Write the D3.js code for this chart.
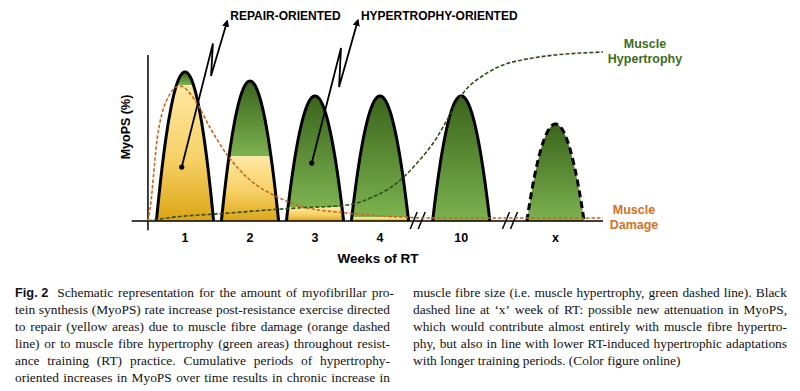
<!DOCTYPE html>
<html>
<head>
<meta charset="utf-8">
<script src="https://cdn.jsdelivr.net/npm/d3@7"></script>
<style>
  body { margin: 0; background: white; }
</style>
</head>
<body>
<div id="container"></div>
<script>
let w = 800;
let h = 391;

// weeks of RT and where they sit on the broken axis (in "slot" units)
let weeks = ["1", "2", "3", "4", "10", "x"];
let weekSlots = [1, 2, 3, 4, 5.25, 6.7];
let peakMyoPS = [89.8, 84.3, 75.3, 75.3, 75.3, 58.4];
let repairMyoPS = [82, 39, 8.4, 2.4, 0, 0];
let dashedWeek = [false, false, false, false, false, true];
let breakSlots = [4.58, 6.0];

// orange dashed line (muscle damage)
let damageSlots = [0.43, 0.46, 0.57, 0.72, 0.92, 1.18, 1.38, 1.65, 2.0, 2.42, 2.77, 3.49, 4.31, 4.77, 7.43];
let damageValues = [0, 6.6, 48.8, 72.9, 81.3, 71.1, 56.6, 39.8, 24.7, 14.5, 9.0, 4.8, 2.4, 1.8, 1.8];

// green dashed line (muscle hypertrophy)
let hypertrophySlots = [0.43, 0.72, 1.69, 2.26, 2.72, 3.49, 3.89, 4.26, 4.57, 4.88, 5.03, 5.28, 5.65, 6.35, 7.43];
let hypertrophyValues = [0, 1.8, 4.8, 6.6, 7.8, 9.6, 14.5, 22.9, 34.9, 50.6, 60.8, 77.1, 89.2, 98.2, 101.8];

// pointers: dot -> zig -> zag -> arrow tip
let pointerLabels = ["REPAIR-ORIENTED", "HYPERTROPHY-ORIENTED"];
let pointerSlots = [[0.95, 1.43, 1.40, 1.65], [2.95, 3.40, 3.37, 3.66]];
let pointerValues = [[32.5, 107, 87.3, 120.5], [34.9, 104.2, 80.7, 121]];

let captionLeft = [
  ["Fig. 2", "Schematic representation for the amount of myofibrillar pro-"],
  ["", "tein synthesis (MyoPS) rate increase post-resistance exercise directed"],
  ["", "to repair (yellow areas) due to muscle fibre damage (orange dashed"],
  ["", "line) or to muscle fibre hypertrophy (green areas) throughout resist-"],
  ["", "ance training (RT) practice. Cumulative periods of hypertrophy-"],
  ["", "oriented increases in MyoPS over time results in chronic increase in"]
];
let captionRight = [
  "muscle fibre size (i.e. muscle hypertrophy, green dashed line). Black",
  "dashed line at \u2018x\u2019 week of RT: possible new attenuation in MyoPS,",
  "which would contribute almost entirely with muscle fibre hypertro-",
  "phy, but also in line with lower RT-induced hypertrophic adaptations",
  "with longer training periods. (Color figure online)"
];

let green = "#3E6B20";
let orange = "#D5711E";
let sans = "'Liberation Sans', Arial, sans-serif";
let serif = "'Liberation Serif', 'Times New Roman', serif";

let viz = d3.select("#container")
  .append("svg")
    .attr("width", w)
    .attr("height", h)
    .style("background-color", "white")
;

let x = d3.scaleLinear().domain([0, 7.5]).range([120, 607.5]);
let y = d3.scaleLinear().domain([0, 100]).range([221, 55]);

let defs = viz.append("defs");
let gGreen = defs.append("linearGradient").attr("id", "greenGrad")
  .attr("x1", 0).attr("y1", 0).attr("x2", 0).attr("y2", 1);
gGreen.append("stop").attr("offset", 0).attr("stop-color", "#3A641C");
gGreen.append("stop").attr("offset", 1).attr("stop-color", "#7DB24F");
let gYellow = defs.append("linearGradient").attr("id", "yellowGrad")
  .attr("x1", 0).attr("y1", 0).attr("x2", 0).attr("y2", 1);
gYellow.append("stop").attr("offset", 0).attr("stop-color", "#FFE8A2");
gYellow.append("stop").attr("offset", 0.55).attr("stop-color", "#F6D065");
gYellow.append("stop").attr("offset", 1).attr("stop-color", "#DCA514");
defs.append("marker")
    .attr("id", "arrow")
    .attr("viewBox", "0 0 10 10")
    .attr("refX", 8).attr("refY", 5)
    .attr("markerWidth", 4).attr("markerHeight", 4)
    .attr("orient", "auto")
  .append("path")
    .attr("d", "M0,0 L10,5 L0,10 z")
    .attr("fill", "black")
;

let halfWidth = 0.44;

function bellSamples(peak, repair){
  let ts = d3.range(-1, 1.00001, 0.02);
  if(repair > 0 && repair < peak){
    let tc = Math.sqrt(1 - repair/peak);
    ts.push(-tc, tc);
  }
  ts.sort((a, b) => a - b);
  return ts.map(t => ({t: t, v: Math.max(0, peak*(1 - t*t))}));
}

let bells = viz.append("g").attr("class", "bells");

weeks.forEach(function(wk, i){
  let slot = weekSlots[i];
  let peak = peakMyoPS[i];
  let repair = repairMyoPS[i];
  let pts = bellSamples(peak, repair);

  let greenArea = d3.area()
    .defined(d => d.v >= repair - 1e-9)
    .x(d => x(slot + d.t*halfWidth))
    .y0(y(repair))
    .y1(d => y(d.v))
  ;
  bells.append("path")
    .attr("d", greenArea(pts))
    .attr("fill", "url(#greenGrad)")
  ;

  if(repair > 0){
    let yellowArea = d3.area()
      .x(d => x(slot + d.t*halfWidth))
      .y0(y(0))
      .y1(d => y(Math.min(d.v, repair)))
    ;
    bells.append("path")
      .attr("d", yellowArea(pts))
      .attr("fill", "url(#yellowGrad)")
    ;
  }

  let outline = d3.line()
    .x(d => x(slot + d.t*halfWidth))
    .y(d => y(d.v))
  ;
  bells.append("path")
    .attr("d", outline(pts))
    .attr("fill", "none")
    .attr("stroke", "black")
    .attr("stroke-width", 3)
    .attr("stroke-dasharray", dashedWeek[i] ? "7,4" : null)
  ;
});

// axes
viz.append("line") // y axis
  .attr("x1", x(0.43)).attr("y1", y(100))
  .attr("x2", x(0.43)).attr("y2", y(-5.5))
  .style("stroke", "black")
  .style("stroke-width", 1.5)
;
viz.append("line") // x axis
  .attr("x1", x(0.18)).attr("y1", y(0))
  .attr("x2", x(7.43)).attr("y2", y(0))
  .style("stroke", "black")
  .style("stroke-width", 1.5)
;
breakSlots.forEach(function(s){
  [-4, 4].forEach(function(off){
    viz.append("line")
      .attr("x1", x(s) + off - 3.5).attr("y1", y(0) + 8)
      .attr("x2", x(s) + off + 3.5).attr("y2", y(0) - 9)
      .style("stroke", "black")
      .style("stroke-width", 1.5)
    ;
  });
});

// dashed lines
let damageLine = d3.line()
  .x((d, i) => x(damageSlots[i]))
  .y(d => y(d))
  .curve(d3.curveMonotoneX)
;
viz.append("path")
  .attr("d", damageLine(damageValues))
  .attr("fill", "none")
  .attr("stroke", "#C8661E")
  .attr("stroke-width", 1.6)
  .attr("stroke-dasharray", "3.5,2")
;
let hypLine = d3.line()
  .x((d, i) => x(hypertrophySlots[i]))
  .y(d => y(d))
  .curve(d3.curveMonotoneX)
;
viz.append("path")
  .attr("d", hypLine(hypertrophyValues))
  .attr("fill", "none")
  .attr("stroke", "#2E4F18")
  .attr("stroke-width", 1.6)
  .attr("stroke-dasharray", "4,2")
;

// pointers
pointerLabels.forEach(function(lab, i){
  let sl = pointerSlots[i];
  let vl = pointerValues[i];
  let pts = sl.map((s, j) => [x(s), y(vl[j])]);
  viz.append("path")
    .attr("d", d3.line()(pts))
    .attr("fill", "none")
    .attr("stroke", "black")
    .attr("stroke-width", 1.8)
    .attr("marker-end", "url(#arrow)")
  ;
  viz.append("circle")
    .attr("cx", pts[0][0])
    .attr("cy", pts[0][1])
    .attr("r", 2.6)
    .attr("fill", "black")
  ;
  viz.append("text")
    .text(lab)
    .attr("x", pts[3][0] + 3)
    .attr("y", 19.5)
    .style("font-family", sans)
    .style("font-weight", "bold")
    .style("font-size", "12px")
    .attr("fill", "black")
  ;
});

// tick labels
viz.selectAll(".tick-label").data(weeks).enter()
  .append("text")
    .attr("class", "tick-label")
    .text(d => d)
    .attr("x", (d, i) => x(weekSlots[i]))
    .attr("y", y(0) + 21)
    .attr("text-anchor", "middle")
    .style("font-family", sans)
    .style("font-weight", "bold")
    .style("font-size", "12.5px")
;
viz.append("text")
  .text("Weeks of RT")
  .attr("x", 378)
  .attr("y", 263)
  .attr("text-anchor", "middle")
  .style("font-family", sans)
  .style("font-weight", "bold")
  .style("font-size", "13.5px")
;
viz.append("text")
  .text("MyoPS (%)")
  .attr("transform", "translate(130,127) rotate(-90)")
  .attr("text-anchor", "middle")
  .style("font-family", sans)
  .style("font-weight", "bold")
  .style("font-size", "12.5px")
;

// curve labels
[["Muscle", 48], ["Hypertrophy", 63]].forEach(function(d){
  viz.append("text")
    .text(d[0])
    .attr("x", 645).attr("y", d[1])
    .attr("text-anchor", "middle")
    .style("font-family", sans)
    .style("font-weight", "bold")
    .style("font-size", "12.5px")
    .attr("fill", green)
  ;
});
[["Muscle", 214], ["Damage", 229]].forEach(function(d){
  viz.append("text")
    .text(d[0])
    .attr("x", 634).attr("y", d[1])
    .attr("text-anchor", "middle")
    .style("font-family", sans)
    .style("font-weight", "bold")
    .style("font-size", "12.5px")
    .attr("fill", orange)
  ;
});

// caption, justified word by word
let capSize = 13.4;
function captionLine(words, x0, x1, yb, justify){
  let t = viz.append("text")
    .attr("y", yb)
    .style("font-size", capSize + "px")
    .attr("fill", "#111")
  ;
  let spans = words.map(function(wd){
    return t.append("tspan")
      .text(wd.text)
      .style("font-family", wd.bold ? sans : serif)
      .style("font-weight", wd.bold ? "bold" : "normal")
      .style("font-size", wd.bold ? (capSize - 0.6) + "px" : capSize + "px");
  });
  let widths = spans.map(s => s.node().getComputedTextLength());
  let total = d3.sum(widths);
  let gap = justify ? (x1 - x0 - total) / (words.length - 1) : capSize*0.25;
  let cx = x0;
  spans.forEach(function(s, i){
    s.attr("x", cx);
    cx += widths[i] + gap + (words[i].bold ? 4 : 0);
  });
}
function toWords(str){
  return str.split(" ").map(s => ({text: s, bold: false}));
}
captionLeft.forEach(function(line, i){
  let words = [];
  if(line[0]) words.push({text: line[0], bold: true});
  words = words.concat(toWords(line[1]));
  captionLine(words, 15, 390, 297 + i*17, true);
});
captionRight.forEach(function(line, i){
  captionLine(toWords(line), 413, 787, 297 + i*17, i < captionRight.length - 1);
});
</script>
</body>
</html>
